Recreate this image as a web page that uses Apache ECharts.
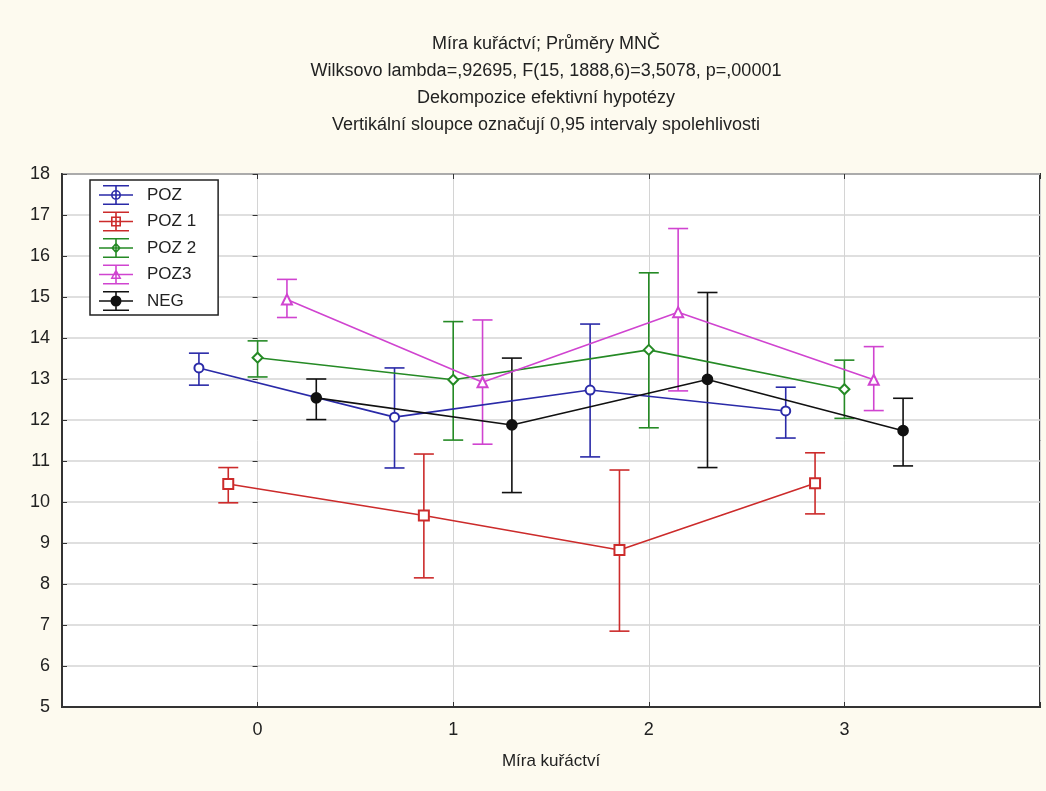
<!DOCTYPE html>
<html>
<head>
<meta charset="utf-8">
<script src="https://cdn.jsdelivr.net/npm/echarts@6/dist/echarts.min.js"></script>
<style>
	html, body {margin: 0; padding: 0; background: #fdfaef;}
	#chart {width: 1046px; height: 791px;}
</style>
</head>
<body>
<div id="chart"></div>
<script>
// kategorie osy x (Míra kuřáctví)
var categories = [0, 1, 2, 3];
var seriesNames = ['POZ', 'POZ 1', 'POZ 2', 'POZ3', 'NEG'];

// průměry a 0,95 intervaly spolehlivosti
var pozMean = [13.27, 12.07, 12.73, 12.22];
var pozLow = [12.85, 10.83, 11.10, 11.56];
var pozHigh = [13.63, 13.27, 14.34, 12.80];

var poz1Mean = [10.44, 9.67, 8.83, 10.46];
var poz1Low = [9.98, 8.15, 6.85, 9.71];
var poz1High = [10.84, 11.17, 10.78, 11.20];

var poz2Mean = [13.52, 12.98, 13.71, 12.75];
var poz2Low = [13.05, 11.51, 11.81, 12.04];
var poz2High = [13.93, 14.40, 15.59, 13.46];

var poz3Mean = [14.94, 12.92, 14.63, 12.98];
var poz3Low = [14.50, 11.41, 12.71, 12.23];
var poz3High = [15.43, 14.44, 16.67, 13.79];

var negMean = [12.54, 11.88, 12.99, 11.74];
var negLow = [12.01, 10.23, 10.84, 10.88];
var negHigh = [13.00, 13.51, 15.11, 12.53];

var yTicks = [5, 6, 7, 8, 9, 10, 11, 12, 13, 14, 15, 16, 17, 18];

var font = '"Liberation Sans", Arial, sans-serif';
var textColor = '#222';

var groups = [
	{name: seriesNames[0], mean: pozMean, low: pozLow, high: pozHigh, color: '#2a2aa8', symbol: 'emptyCircle', size: 9, off: -0.3},
	{name: seriesNames[1], mean: poz1Mean, low: poz1Low, high: poz1High, color: '#cc2b2b', symbol: 'emptyRect', size: 10, off: -0.15},
	{name: seriesNames[2], mean: poz2Mean, low: poz2Low, high: poz2High, color: '#258a25', symbol: 'emptyDiamond', size: 10, off: 0},
	{name: seriesNames[3], mean: poz3Mean, low: poz3Low, high: poz3High, color: '#d044d0', symbol: 'emptyTriangle', size: 10, off: 0.15},
	{name: seriesNames[4], mean: negMean, low: negLow, high: negHigh, color: '#111111', symbol: 'circle', size: 10, off: 0.3}
];

// ikony legendy: chybová úsečka se značkou
var bars = 'M4 0h26v1.6h-26Z M4 18.4h26v1.6h-26Z M0 9.2h34v1.6h-34Z M16.2 0h1.6v20h-1.6Z ';
var markerPaths = {
	emptyCircle: 'M17 5a5 5 0 1 1 0 10a5 5 0 1 1 0 -10Z M17 6.6a3.4 3.4 0 1 0 0 6.8a3.4 3.4 0 1 0 0 -6.8Z',
	emptyRect: 'M12 5h10v10h-10Z M13.6 6.6v6.8h6.8v-6.8Z',
	emptyDiamond: 'M17 4.5l5 5.5l-5 5.5l-5 -5.5Z M17 6.9l-2.9 3.1l2.9 3.1l2.9 -3.1Z',
	emptyTriangle: 'M17 4.5l5.5 10h-11Z M17 7.6l-3 5.3h6Z',
	circle: 'M17 4.5a5.5 5.5 0 1 1 0 11a5.5 5.5 0 1 1 0 -11Z'
};

var chart = echarts.init(document.getElementById('chart'));

var series = [];
var legendData = [];
groups.forEach(function (g) {
	var points = [];
	var errs = [];
	for (var i = 0; i < categories.length; i++) {
		points.push([categories[i] + g.off, g.mean[i]]);
		errs.push([categories[i] + g.off, g.low[i], g.high[i]]);
	}
	series.push({
		name: g.name,
		type: 'custom',
		z: 2,
		data: errs,
		encode: {x: 0, y: [1, 2]},
		renderItem: function (params, api) {
			var x = api.value(0);
			var lo = api.coord([x, api.value(1)]);
			var hi = api.coord([x, api.value(2)]);
			var w = 10;
			var style = {stroke: g.color, lineWidth: 1.6, fill: null};
			return {
				type: 'group',
				children: [
					{type: 'line', shape: {x1: hi[0], y1: hi[1], x2: lo[0], y2: lo[1]}, style: style},
					{type: 'line', shape: {x1: hi[0] - w, y1: hi[1], x2: hi[0] + w, y2: hi[1]}, style: style},
					{type: 'line', shape: {x1: lo[0] - w, y1: lo[1], x2: lo[0] + w, y2: lo[1]}, style: style}
				]
			};
		}
	});
	series.push({
		name: g.name,
		type: 'line',
		z: 3,
		data: points,
		symbol: g.symbol,
		symbolSize: g.size,
		showSymbol: true,
		animation: false,
		lineStyle: {color: g.color, width: 1.6},
		itemStyle: {color: g.color, borderColor: g.color, borderWidth: 1.6}
	});
	legendData.push({
		name: g.name,
		icon: 'path://' + bars + markerPaths[g.symbol],
		itemStyle: {color: g.color, borderWidth: 0}
	});
});

var titleLines = [
	'Míra kuřáctví; Průměry MNČ',
	'Wilksovo lambda=,92695, F(15, 1888,6)=3,5078, p=,00001',
	'Dekompozice efektivní hypotézy',
	'Vertikální sloupce označují 0,95 intervaly spolehlivosti'
];

chart.setOption({
	backgroundColor: '#fdfaef',
	animation: false,
	title: titleLines.map(function (t, i) {
		return {
			text: t,
			left: 546,
			textAlign: 'center',
			top: 35 + i * 27,
			padding: 0,
			textStyle: {fontFamily: font, fontSize: 18, fontWeight: 'normal', color: textColor}
		};
	}),
	legend: {
		orient: 'vertical',
		left: 90,
		top: 180,
		data: legendData,
		itemWidth: 34,
		itemHeight: 20,
		itemGap: 6.5,
		padding: [5, 22, 4, 9],
		backgroundColor: '#ffffff',
		borderColor: '#222',
		borderWidth: 1.5,
		borderRadius: 0,
		selectedMode: false,
		textStyle: {fontFamily: font, fontSize: 17, color: textColor, padding: [0, 0, 0, 9]}
	},
	grid: {
		left: 62,
		right: 6,
		top: 174,
		bottom: 84,
		show: true,
		backgroundColor: '#ffffff',
		borderColor: '#333',
		borderWidth: 2
	},
	xAxis: [{
		type: 'value',
		min: -1,
		max: 4,
		interval: 1,
		name: 'Míra kuřáctví',
		nameLocation: 'middle',
		nameGap: 46,
		nameTextStyle: {fontFamily: font, fontSize: 17, color: textColor},
		axisLine: {show: true, onZero: false, lineStyle: {color: '#333', width: 2}},
		axisTick: {show: true, inside: true, length: 5, lineStyle: {color: '#333'}},
		axisLabel: {
			fontFamily: font, fontSize: 18, color: textColor, margin: 14,
			formatter: function (v) {
				return categories.indexOf(v) >= 0 ? String(v) : '';
			}
		},
		splitLine: {show: true, lineStyle: {color: '#d4d4d4', width: 1}}
	}, {
		type: 'value',
		position: 'top',
		min: -1,
		max: 4,
		interval: 1,
		axisLine: {show: false},
		axisTick: {show: true, inside: true, length: 5, lineStyle: {color: '#333'}},
		axisLabel: {show: false},
		splitLine: {show: false}
	}],
	yAxis: [{
		type: 'value',
		min: yTicks[0],
		max: yTicks[yTicks.length - 1],
		interval: 1,
		axisLine: {show: true, onZero: false, lineStyle: {color: '#333', width: 2}},
		axisTick: {show: true, inside: true, length: 5, lineStyle: {color: '#333'}},
		axisLabel: {fontFamily: font, fontSize: 18, color: textColor, margin: 12},
		splitLine: {show: true, lineStyle: {color: '#d4d4d4', width: 1.5}}
	}, {
		type: 'value',
		position: 'right',
		min: yTicks[0],
		max: yTicks[yTicks.length - 1],
		interval: 1,
		axisLine: {show: false},
		axisTick: {show: true, inside: true, length: 5, lineStyle: {color: '#333'}},
		axisLabel: {show: false},
		splitLine: {show: false}
	}],
	series: series
});
</script>
</body>
</html>
